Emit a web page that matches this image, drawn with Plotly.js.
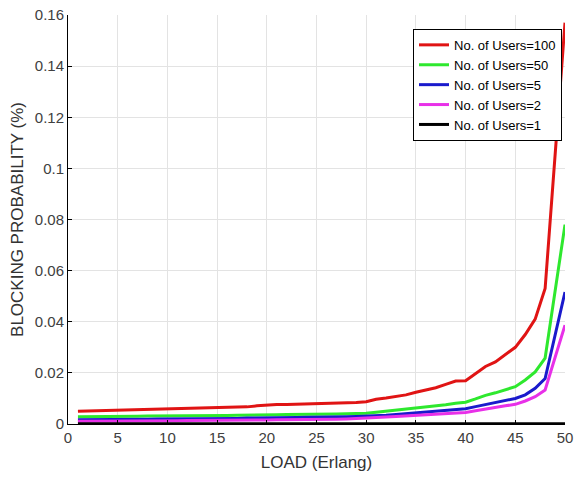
<!DOCTYPE html>
<html>
<head>
<meta charset="utf-8">
<script src="https://cdn.plot.ly/plotly-3.0.1.min.js"></script>
<style>html,body{margin:0;padding:0;background:#fff;}#chart{width:575px;height:478px;}</style>
</head>
<body>
<div id="chart"></div>
<script>
var load = [1,2,3,4,5,6,7,8,9,10,11,12,13,14,15,16,17,18,19,20,21,22,23,24,25,26,27,28,29,30,31,32,33,34,35,36,37,38,39,40,41,42,43,44,45,46,47,48,49,50];

var users100 = [0.0050,0.0051,0.0052,0.0053,0.0054,0.0055,0.0055,0.0056,0.0057,0.0058,
  0.0059,0.0061,0.0062,0.0063,0.0064,0.0065,0.0066,0.0067,0.0071,0.0074,
  0.0076,0.0076,0.0077,0.0077,0.0078,0.0079,0.0081,0.0082,0.0084,0.0087,
  0.0097,0.0102,0.0108,0.0114,0.0124,0.0133,0.0142,0.0155,0.0168,0.0169,
  0.0197,0.0225,0.0243,0.0270,0.0300,0.0350,0.0410,0.0530,0.1040,0.1570];

var users50 = [0.0028,0.0028,0.0029,0.0029,0.0030,0.0030,0.0030,0.0031,0.0031,0.0031,
  0.0032,0.0032,0.0032,0.0033,0.0033,0.0033,0.0034,0.0034,0.0035,0.0036,
  0.0036,0.0037,0.0037,0.0037,0.0038,0.0038,0.0039,0.0040,0.0041,0.0042,
  0.0046,0.0050,0.0054,0.0058,0.0062,0.0066,0.0070,0.0075,0.0081,0.0085,
  0.0098,0.0112,0.0122,0.0134,0.0146,0.0172,0.0204,0.0258,0.0520,0.0780];

var users5 = [0.0017,0.0017,0.0018,0.0018,0.0018,0.0019,0.0019,0.0019,0.0020,0.0020,
  0.0020,0.0021,0.0021,0.0021,0.0022,0.0022,0.0022,0.0023,0.0023,0.0024,
  0.0024,0.0025,0.0025,0.0026,0.0026,0.0027,0.0027,0.0028,0.0029,0.0030,
  0.0032,0.0034,0.0037,0.0040,0.0043,0.0046,0.0049,0.0053,0.0057,0.0060,
  0.0068,0.0076,0.0084,0.0092,0.0100,0.0114,0.0140,0.0178,0.0350,0.0516];

var users2 = [0.0011,0.0011,0.0011,0.0012,0.0012,0.0012,0.0012,0.0013,0.0013,0.0013,
  0.0013,0.0014,0.0014,0.0014,0.0015,0.0015,0.0015,0.0016,0.0016,0.0016,
  0.0017,0.0017,0.0017,0.0018,0.0018,0.0019,0.0019,0.0020,0.0021,0.0023,
  0.0025,0.0027,0.0029,0.0031,0.0034,0.0036,0.0038,0.0040,0.0043,0.0045,
  0.0052,0.0059,0.0065,0.0071,0.0077,0.0090,0.0107,0.0133,0.0260,0.0387];

var users1 = [0.0001,0.0001,0.0001,0.0001,0.0001,0.0001,0.0001,0.0001,0.0001,0.0001,
  0.0001,0.0001,0.0001,0.0001,0.0001,0.0001,0.0001,0.0001,0.0001,0.0001,
  0.0001,0.0001,0.0001,0.0001,0.0001,0.0001,0.0001,0.0001,0.0001,0.0001,
  0.0001,0.0001,0.0001,0.0001,0.0001,0.0001,0.0001,0.0001,0.0001,0.0001,
  0.0001,0.0001,0.0001,0.0001,0.0001,0.0001,0.0001,0.0001,0.0001,0.0001];

var seriesNames = ['No. of Users=100','No. of Users=50','No. of Users=5','No. of Users=2','No. of Users=1'];
var seriesData = [users100, users50, users5, users2, users1];
var seriesColors = ['#e01414','#2ee82e','#1a1acc','#e830e8','#000000'];

var traces = seriesData.map(function(d, i){
  return {x: load, y: d, type: 'scatter', mode: 'lines', name: seriesNames[i],
          line: {color: seriesColors[i], width: 3}};
});

var fontFam = '"Liberation Sans", Arial, sans-serif';
var layout = {
  width: 575, height: 478,
  margin: {l: 68, r: 10, t: 15, b: 54},
  paper_bgcolor: '#fff', plot_bgcolor: '#fff',
  font: {family: fontFam, size: 15, color: '#404040'},
  showlegend: true,
  legend: {x: 0.994, xanchor: 'right', y: 0.966, yanchor: 'top',
           bgcolor: '#fff', bordercolor: '#000', borderwidth: 1,
           entrywidth: 160, entrywidthmode: 'pixels',
           font: {family: fontFam, size: 13, color: '#000'}},
  xaxis: {range: [0, 50], dtick: 5, tick0: 0, showline: true, linecolor: '#000', linewidth: 1,
          ticks: 'inside', ticklen: 4, tickcolor: '#000', showgrid: true, gridcolor: '#e3e3e3',
          zeroline: false, tickfont: {size: 15, color: '#404040'},
          title: {text: 'LOAD (Erlang)', font: {size: 17, color: '#333'}, standoff: 11}},
  yaxis: {range: [0, 0.16], dtick: 0.02, tick0: 0, showline: true, linecolor: '#000', linewidth: 1,
          ticks: 'inside', ticklen: 4, tickcolor: '#000', showgrid: true, gridcolor: '#e3e3e3',
          zeroline: false, tickfont: {size: 15, color: '#404040'},
          title: {text: 'BLOCKING PROBABILITY (%)', font: {size: 17, color: '#333'}, standoff: 6}}
};

Plotly.newPlot('chart', traces, layout, {displayModeBar: false, staticPlot: true});
</script>
</body>
</html>
